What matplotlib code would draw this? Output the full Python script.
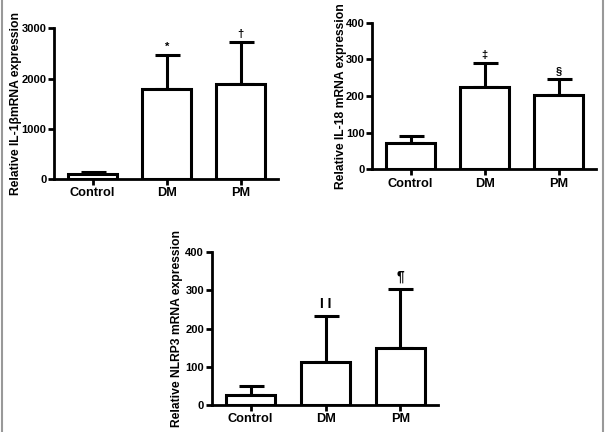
import matplotlib
matplotlib.use("Agg")
import matplotlib.pyplot as plt
from matplotlib.lines import Line2D

plt.rcParams['font.family'] = ['Liberation Sans', 'DejaVu Sans']
plt.rcParams['font.weight'] = 'bold'
plt.rcParams['axes.labelweight'] = 'bold'

groups = ['Control', 'DM', 'PM']

il1b_mean = [100, 1787, 1886]
il1b_err = [30, 683, 843]
il1b_marks = ['', '*', '\u2020']

il18_mean = [72, 225, 203]
il18_err = [20, 64, 44]
il18_marks = ['', '\u2021', '\u00a7']

nlrp3_mean = [26, 113, 149]
nlrp3_err = [25, 121, 156]
nlrp3_marks = ['', 'I I', '\u00b6']

fig = plt.figure(figsize=(6.05, 4.32), dpi=100)


def panel(rect, mean, err, marks, ymax, step, ylabel, label_x, mark_pad, mark_size):
    ax = fig.add_axes(rect)
    x = range(len(groups))
    ax.bar(x, mean, width=0.66, color='white', edgecolor='black', linewidth=2.2, zorder=2)
    ax.errorbar(x, mean, yerr=[[0] * len(err), err], fmt='none', ecolor='black',
                elinewidth=2.2, capsize=9, capthick=2.2, zorder=1)
    for xi, m, e, t in zip(x, mean, err, marks):
        if t:
            ax.text(xi, m + e + mark_pad, t, ha='center', va='bottom', fontsize=mark_size)
    ax.set_xlim(-0.52, 2.5)
    ax.set_ylim(0, ymax)
    ax.set_yticks(range(0, ymax + 1, step))
    ax.set_xticks(list(x))
    ax.set_xticklabels(groups)
    ax.spines['top'].set_visible(False)
    ax.spines['right'].set_visible(False)
    ax.spines['left'].set_linewidth(2)
    ax.spines['bottom'].set_linewidth(2)
    ax.tick_params(width=2, length=4, pad=2)
    ax.tick_params(axis='x', labelsize=9.2)
    ax.tick_params(axis='y', labelsize=8, pad=1.5)
    ax.set_ylabel(ylabel, fontsize=8.7)
    ax.yaxis.set_label_coords(label_x, 0.5)
    return ax


panel([0.0893, 0.5856, 0.370, 0.349], il1b_mean, il1b_err, il1b_marks, 3000, 1000,
      'Relative IL-1\u03b2mRNA expression', -0.145, 60, 8)
panel([0.6150, 0.6081, 0.3700, 0.3394], il18_mean, il18_err, il18_marks, 400, 100,
      'Relative IL-18 mRNA expression', -0.112, 8, 8)
panel([0.3499, 0.0625, 0.374, 0.3535], nlrp3_mean, nlrp3_err, nlrp3_marks, 400, 100,
      'Relative NLRP3 mRNA expression', -0.129, 12, 10)

# grey frame lines at left and right edges
fig.add_artist(Line2D([0.003, 0.003], [0, 1], color='#999999', linewidth=1.5))
fig.add_artist(Line2D([0.996, 0.996], [0, 1], color='#999999', linewidth=1.5))

fig.savefig('out.png', dpi=100)
